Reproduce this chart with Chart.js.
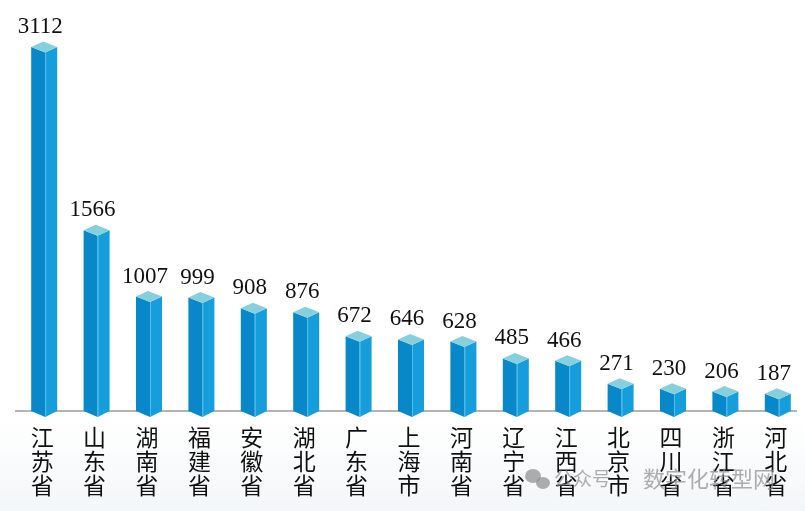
<!DOCTYPE html>
<html>
<head>
<meta charset="utf-8">
<script src="https://cdn.jsdelivr.net/npm/chart.js@4.4.1/dist/chart.umd.min.js"></script>
<style>
  html, body { margin: 0; padding: 0; background: #fff; }
  #wrap { width: 805px; height: 511px; position: relative;
          background: linear-gradient(to bottom, #ffffff 0px, #ffffff 420px, #f3f6f8 511px); }
</style>
</head>
<body>
<div id="wrap"><canvas id="grafico"></canvas></div>
<script>
// provincias y valores
const provincias = ['江苏省','山东省','湖南省','福建省','安徽省','湖北省','广东省','上海市','河南省','辽宁省','江西省','北京市','四川省','浙江省','河北省'];
const valores = [3112, 1566, 1007, 999, 908, 876, 672, 646, 628, 485, 466, 271, 230, 206, 187];
const marcaAgua1 = '公众号';
const marcaAgua2 = '数字化转型网';

const colorIzq = '#0888c8';
const colorDer = '#159edb';
const colorTop = '#86cfdc';

// dibuja los prismas, la linea base, los numeros y las etiquetas verticales
const prismas = {
    id: 'prismas',
    afterDatasetsDraw(chart) {
        const ctx = chart.ctx;
        const meta = chart.getDatasetMeta(0);
        const yBase = chart.scales.y.getPixelForValue(0);

        ctx.save();
        ctx.strokeStyle = '#b4b4b4';
        ctx.lineWidth = 2;
        ctx.beginPath();
        ctx.moveTo(15, yBase - 5);
        ctx.lineTo(797, yBase - 5);
        ctx.stroke();

        const L = 14, R = 12, d = 5.5;
        meta.data.forEach((bar, i) => {
            const f = bar.x, y = bar.y;
            // cara izquierda
            ctx.fillStyle = colorIzq;
            ctx.beginPath();
            ctx.moveTo(f - L, y);
            ctx.lineTo(f, y + d);
            ctx.lineTo(f, yBase + 1);
            ctx.lineTo(f - L, yBase - 5);
            ctx.closePath();
            ctx.fill();
            // cara derecha
            ctx.fillStyle = colorDer;
            ctx.beginPath();
            ctx.moveTo(f, y + d);
            ctx.lineTo(f + R, y);
            ctx.lineTo(f + R, yBase - 5);
            ctx.lineTo(f, yBase + 1);
            ctx.closePath();
            ctx.fill();
            // arista frontal
            ctx.strokeStyle = '#55bde8';
            ctx.lineWidth = 1;
            ctx.beginPath();
            ctx.moveTo(f + 0.5, y + d);
            ctx.lineTo(f + 0.5, yBase + 1);
            ctx.stroke();
            // tapa
            ctx.fillStyle = colorTop;
            ctx.beginPath();
            ctx.moveTo(f - L, y);
            ctx.lineTo(f, y + d);
            ctx.lineTo(f + R, y);
            ctx.lineTo(f - L + R, y - d);
            ctx.closePath();
            ctx.fill();

            // valor
            ctx.fillStyle = '#111';
            ctx.font = '23px "Liberation Serif", serif';
            ctx.textAlign = 'center';
            ctx.textBaseline = 'alphabetic';
            ctx.fillText(String(valores[i]), f - 5, y - 14);

            // etiqueta vertical
            ctx.font = '23px "Noto Sans CJK SC", sans-serif';
            ctx.textBaseline = 'middle';
            const chars = provincias[i].split('');
            chars.forEach((c, k) => {
                ctx.fillText(c, f - 3, 437 + 24 * k);
            });
        });

        // marca de agua
        ctx.fillStyle = 'rgba(140,140,140,0.7)';
        ctx.beginPath();
        ctx.ellipse(533, 476, 8, 7, 0, 0, Math.PI * 2);
        ctx.fill();
        ctx.beginPath();
        ctx.ellipse(543, 483, 7, 6, 0, 0, Math.PI * 2);
        ctx.fill();
        ctx.textAlign = 'left';
        ctx.textBaseline = 'middle';
        ctx.font = '19px "Noto Sans CJK SC", sans-serif';
        ctx.fillText(marcaAgua1, 554, 479);
        ctx.font = '22px "Noto Sans CJK SC", sans-serif';
        ctx.fillText(marcaAgua2, 643, 479);
        ctx.restore();
    }
};

const canvas = document.getElementById('grafico').getContext('2d');
const datos = {
    labels: provincias,
    datasets: [{
        data: valores,
        backgroundColor: 'rgba(0,0,0,0)',
        borderWidth: 0
    }]
};
const opciones = {
    responsive: true,
    maintainAspectRatio: false,
    animation: false,
    layout: { padding: { left: 19, right: 0, top: 10, bottom: 95 } },
    plugins: { legend: { display: false }, tooltip: { enabled: false } },
    scales: {
        x: { display: false, offset: true },
        y: { display: false, min: 0, max: 3424 }
    }
};
new Chart(canvas, { type: 'bar', data: datos, options: opciones, plugins: [prismas] });
</script>
</body>
</html>
